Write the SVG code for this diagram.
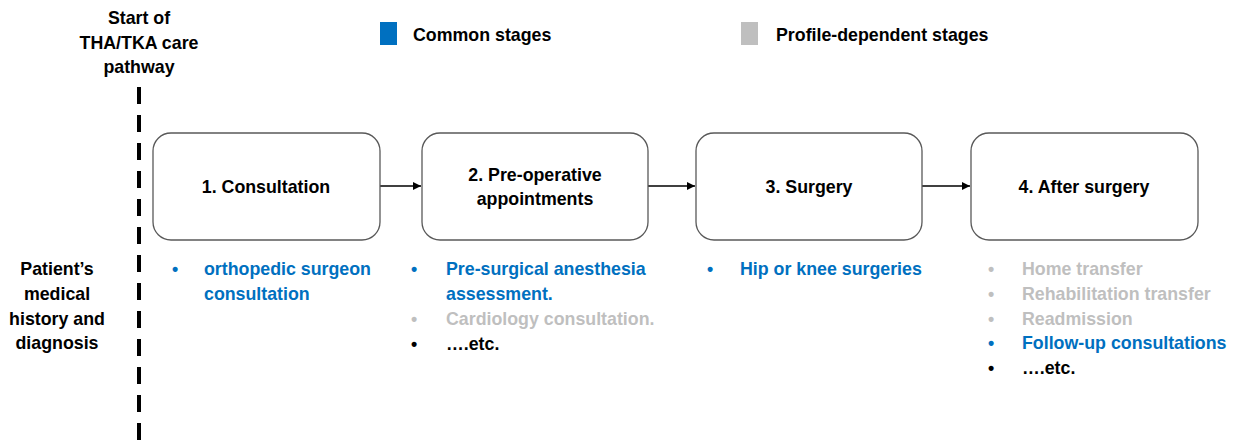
<svg xmlns="http://www.w3.org/2000/svg" width="1234" height="443" viewBox="0 0 1234 443">
<style>
text{font-family:"Liberation Sans",Arial,sans-serif;font-weight:bold;font-size:17.8px}
.c{text-anchor:middle}
.k{fill:#000}
.b{fill:#0070C0}
.g{fill:#BFBFBF}
.box{fill:#fff;stroke:#595959;stroke-width:1.3}
.conn{stroke:#000;stroke-width:1.5;fill:none;marker-end:url(#ah)}
</style>
<defs>
<marker id="ah" viewBox="0 0 10 10" refX="10" refY="5" markerWidth="8" markerHeight="8" markerUnits="userSpaceOnUse" orient="auto">
<path d="M0,0 L10,5 L0,10 z" fill="#000"/>
</marker>
</defs>
<rect width="1234" height="443" fill="#fff"/>
<g id="start-label">
<text class="c k" x="139" y="24">Start of</text>
<text class="c k" x="139" y="49">THA/TKA care</text>
<text class="c k" x="139" y="73">pathway</text>
</g>
<g id="start-line">
<line x1="139" y1="87" x2="139" y2="443" stroke="#000" stroke-width="4" stroke-dasharray="17 11"/>
</g>
<g id="patient-label">
<text class="c k" x="57" y="275">Patient’s</text>
<text class="c k" x="57" y="300">medical</text>
<text class="c k" x="57" y="325">history and</text>
<text class="c k" x="57" y="349">diagnosis</text>
</g>
<g id="legend">
<rect x="380" y="22" width="17" height="23" fill="#0070C0"/>
<text class="k" x="413" y="41">Common stages</text>
<rect x="741" y="22" width="17" height="23" fill="#BFBFBF"/>
<text class="k" x="776" y="41">Profile-dependent stages</text>
</g>
<g id="connectors">
<line class="conn" x1="380" y1="186" x2="421" y2="186"/>
<line class="conn" x1="648" y1="186" x2="695" y2="186"/>
<line class="conn" x1="922" y1="186" x2="970" y2="186"/>
</g>
<g id="node1">
<rect class="box" x="153" y="133" width="227" height="107" rx="18"/>
<text class="c k" x="266" y="193">1. Consultation</text>
</g>
<g id="node2">
<rect class="box" x="422" y="133" width="226" height="107" rx="18"/>
<text class="c k" x="535" y="181">2. Pre-operative</text>
<text class="c k" x="535" y="205">appointments</text>
</g>
<g id="node3">
<rect class="box" x="696" y="133" width="226" height="107" rx="18"/>
<text class="c k" x="809" y="193">3. Surgery</text>
</g>
<g id="node4">
<rect class="box" x="971" y="133" width="227" height="107" rx="18"/>
<text class="c k" x="1084" y="193">4. After surgery</text>
</g>
<g id="list1">
<text class="b" x="172" y="275">•</text>
<text class="b" x="204" y="275">orthopedic surgeon</text>
<text class="b" x="204" y="300">consultation</text>
</g>
<g id="list2">
<text class="b" x="411" y="275">•</text>
<text class="b" x="446" y="275">Pre-surgical anesthesia</text>
<text class="b" x="446" y="300">assessment.</text>
<text class="g" x="411" y="325">•</text>
<text class="g" x="446" y="325">Cardiology consultation.</text>
<text class="k" x="411" y="350">•</text>
<text class="k" x="446" y="350">….etc.</text>
</g>
<g id="list3">
<text class="b" x="707" y="275">•</text>
<text class="b" x="740" y="275">Hip or knee surgeries</text>
</g>
<g id="list4">
<text class="g" x="988" y="275">•</text>
<text class="g" x="1022" y="275">Home transfer</text>
<text class="g" x="988" y="300">•</text>
<text class="g" x="1022" y="300">Rehabilitation transfer</text>
<text class="g" x="988" y="325">•</text>
<text class="g" x="1022" y="325">Readmission</text>
<text class="b" x="988" y="349">•</text>
<text class="b" x="1022" y="349">Follow-up consultations</text>
<text class="k" x="988" y="374">•</text>
<text class="k" x="1022" y="374">….etc.</text>
</g>
</svg>
